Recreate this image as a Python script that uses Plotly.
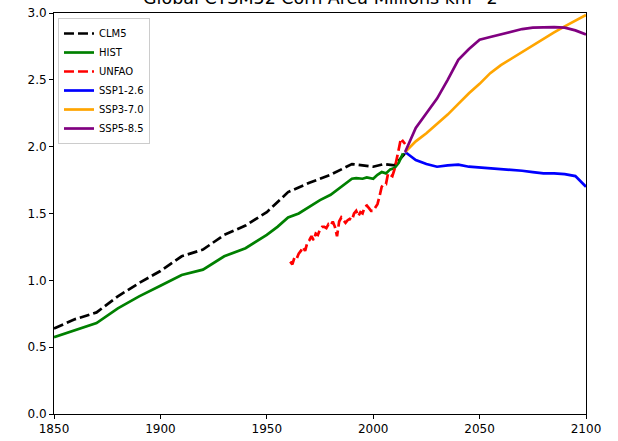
import plotly.graph_objects as go

# ---------------- data ----------------
clm5_years = [1850, 1860, 1870, 1880, 1890, 1900, 1910, 1920, 1930, 1940, 1950,
              1960, 1970, 1980, 1990, 1995, 2000, 2005, 2010, 2015]
clm5_vals = [0.64, 0.71, 0.76, 0.88, 0.98, 1.07, 1.18, 1.23, 1.34, 1.41, 1.51,
             1.66, 1.73, 1.79, 1.87, 1.86, 1.85, 1.87, 1.86, 1.95]

hist_years = [1850, 1860, 1870, 1880, 1890, 1900, 1910, 1920, 1930, 1940, 1950,
              1955, 1960, 1965, 1970, 1975, 1980, 1985, 1990, 1992, 1995, 1997,
              2000, 2002, 2004, 2006, 2008, 2010, 2012, 2014]
hist_vals = [0.575, 0.63, 0.68, 0.79, 0.88, 0.96, 1.04, 1.08, 1.18, 1.24, 1.34,
             1.40, 1.47, 1.50, 1.55, 1.60, 1.64, 1.70, 1.76, 1.765, 1.76, 1.77,
             1.76, 1.79, 1.81, 1.80, 1.83, 1.84, 1.88, 1.95]

fao_years = list(range(1961, 2016))
fao_vals = [1.14, 1.12, 1.17, 1.16, 1.20, 1.22, 1.25, 1.22, 1.28, 1.30,
            1.33, 1.30, 1.35, 1.34, 1.38, 1.40, 1.40, 1.39, 1.42, 1.41,
            1.44, 1.40, 1.33, 1.44, 1.47, 1.45, 1.43, 1.45, 1.46, 1.45,
            1.50, 1.52, 1.48, 1.51, 1.50, 1.55, 1.56, 1.54, 1.52, 1.52,
            1.55, 1.57, 1.63, 1.70, 1.72, 1.72, 1.80, 1.79, 1.78, 1.83,
            1.92, 1.98, 2.06, 2.04, 2.02]

ssp_years = [2015, 2020, 2025, 2030, 2035, 2040, 2045, 2050, 2055, 2060,
             2065, 2070, 2075, 2080, 2085, 2090, 2095, 2100]
ssp126 = [1.96, 1.90, 1.87, 1.85, 1.86, 1.865, 1.85, 1.845, 1.84, 1.835,
          1.83, 1.82, 1.81, 1.80, 1.80, 1.795, 1.78, 1.70]
ssp370 = [1.96, 2.04, 2.10, 2.17, 2.24, 2.32, 2.40, 2.47, 2.55, 2.61,
          2.66, 2.71, 2.76, 2.81, 2.855, 2.90, 2.94, 2.985]
ssp585 = [1.96, 2.14, 2.25, 2.36, 2.50, 2.65, 2.73, 2.80, 2.82, 2.84,
          2.86, 2.88, 2.89, 2.895, 2.895, 2.89, 2.87, 2.84]

x_ticks = [1850, 1900, 1950, 2000, 2050, 2100]
y_ticks = [0.0, 0.5, 1.0, 1.5, 2.0, 2.5, 3.0]
title_text = "Global CTSM52 Corn Area Millions km^2"

# ---------------- figure ----------------
LW = 2.7
DASH = "10px,4px"
fig = go.Figure()
fig.add_trace(go.Scatter(x=clm5_years, y=clm5_vals, mode="lines", name="CLM5",
                         line=dict(color="black", width=LW, dash=DASH)))
fig.add_trace(go.Scatter(x=hist_years, y=hist_vals, mode="lines", name="HIST",
                         line=dict(color="#008000", width=LW)))
fig.add_trace(go.Scatter(x=fao_years, y=fao_vals, mode="lines", name="UNFAO",
                         line=dict(color="red", width=LW, dash=DASH)))
fig.add_trace(go.Scatter(x=ssp_years, y=ssp126, mode="lines", name="SSP1-2.6",
                         line=dict(color="blue", width=LW)))
fig.add_trace(go.Scatter(x=ssp_years, y=ssp370, mode="lines", name="SSP3-7.0",
                         line=dict(color="orange", width=LW)))
fig.add_trace(go.Scatter(x=ssp_years, y=ssp585, mode="lines", name="SSP5-8.5",
                         line=dict(color="purple", width=LW)))

font_family = "DejaVu Sans"
fig.update_layout(
    width=618, height=441,
    margin=dict(l=54, r=32, t=13, b=27, autoexpand=False),
    paper_bgcolor="white", plot_bgcolor="white",
    font=dict(family=font_family, size=12, color="black"),
    showlegend=True,
    legend=dict(x=0.0075, y=0.9875, xanchor="left", yanchor="top",
                bgcolor="rgba(255,255,255,0.8)", bordercolor="#cccccc",
                borderwidth=1, font=dict(size=10, family=font_family),
                itemwidth=30, tracegroupgap=0),
    xaxis=dict(range=[1850, 2100], tickvals=x_ticks,
               ticktext=[str(v) for v in x_ticks], automargin=False,
               showgrid=False, zeroline=False, showline=True, mirror=True,
               linecolor="black", linewidth=1, ticks="outside", ticklen=4,
               tickcolor="black", tickfont=dict(size=12)),
    yaxis=dict(range=[0, 3], tickvals=y_ticks,
               ticktext=["%.1f" % v for v in y_ticks], automargin=False,
               showgrid=False, zeroline=False, showline=True, mirror=True,
               linecolor="black", linewidth=1, ticks="outside", ticklen=4,
               tickcolor="black", tickfont=dict(size=12)),
    annotations=[dict(text=title_text, xref="paper", yref="paper", x=0.5, y=1,
                      xanchor="center", yanchor="bottom", yshift=3,
                      showarrow=False, font=dict(size=17.5, family=font_family))],
)

fig.write_html("out.html", config={"displayModeBar": False},
               post_script="document.body.style.margin='0';"
                           "document.documentElement.style.overflow='hidden';")
